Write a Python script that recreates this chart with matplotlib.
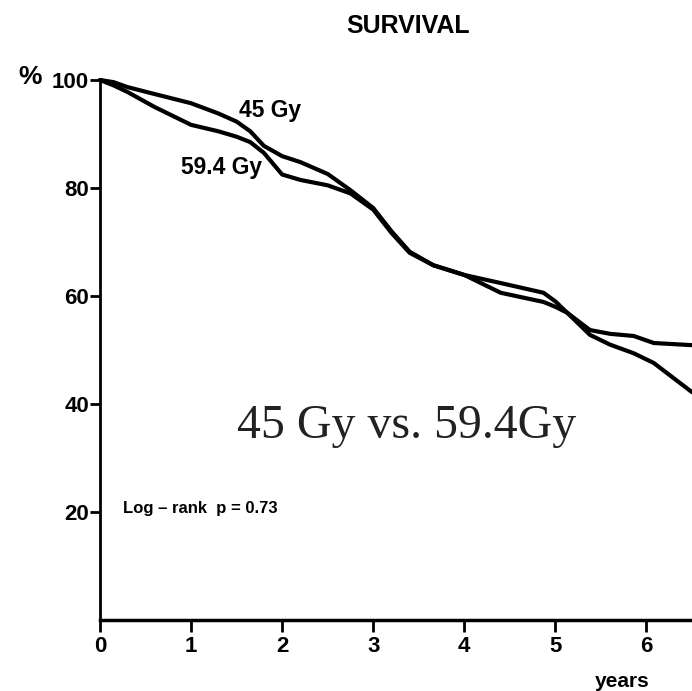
import matplotlib.pyplot as plt

# survival curves (years, % surviving)
years_45 = [0, 0.15, 0.3, 0.6, 1.0, 1.3, 1.5, 1.65, 1.8, 2.0, 2.2, 2.5, 2.75, 3.0, 3.2, 3.4, 3.66, 4.0, 4.4, 4.87, 5.0, 5.13, 5.38, 5.6, 5.86, 6.08, 6.5]
surv_45 = [100, 99.6, 98.7, 97.4, 95.7, 93.8, 92.3, 90.5, 87.8, 85.9, 84.8, 82.6, 79.6, 76.3, 72.0, 68.2, 65.7, 63.9, 62.4, 60.6, 59.0, 56.9, 53.7, 53.0, 52.6, 51.3, 50.9]

years_594 = [0, 0.15, 0.3, 0.6, 1.0, 1.3, 1.5, 1.65, 1.8, 2.0, 2.2, 2.5, 2.75, 3.0, 3.2, 3.4, 3.66, 4.0, 4.4, 4.87, 5.0, 5.13, 5.38, 5.6, 5.86, 6.08, 6.5]
surv_594 = [100, 99.0, 97.8, 95.0, 91.7, 90.5, 89.5, 88.5, 86.5, 82.5, 81.5, 80.5, 79.0, 76.0, 71.7, 68.0, 65.7, 63.9, 60.6, 58.9, 58.0, 56.9, 52.8, 51.0, 49.4, 47.6, 42.2]

xticks = [0, 1, 2, 3, 4, 5, 6]
yticks = [20, 40, 60, 80, 100]

plt.rcParams['font.family'] = ['Liberation Sans', 'DejaVu Sans']

fig = plt.figure(figsize=(6.92, 6.91), dpi=100)
ax = fig.add_axes([0.1445, 0.1027, 0.8555, 0.7815])

ax.plot(years_45, surv_45, color='black', lw=3, clip_on=False, solid_capstyle='round', solid_joinstyle='round')
ax.plot(years_594, surv_594, color='black', lw=3, clip_on=False, solid_capstyle='round', solid_joinstyle='round')

ax.set_xlim(0, 6.5)
ax.set_ylim(0, 100)
ax.spines['top'].set_visible(False)
ax.spines['right'].set_visible(False)
ax.spines['left'].set_linewidth(2)
ax.spines['bottom'].set_linewidth(2.5)

ax.set_xticks(xticks)
ax.set_xticklabels([str(t) for t in xticks], fontsize=16, fontweight='bold')
ax.set_yticks(yticks)
ax.set_yticklabels([str(t) for t in yticks], fontsize=16, fontweight='bold')
ax.tick_params(axis='x', direction='out', length=8.5, width=2, pad=3)
ax.tick_params(axis='y', direction='out', length=7, width=2, pad=1)

fig.text(0.590, 0.962, 'SURVIVAL', fontsize=18, fontweight='bold', ha='center', va='center')
fig.text(0.043, 0.888, '%', fontsize=19, fontweight='bold', ha='center', va='center')
fig.text(0.899, 0.014, 'years', fontsize=15, fontweight='bold', ha='center', va='center')

ax.text(1.53, 94.3, '45 Gy', fontsize=16.5, fontweight='bold', ha='left', va='center')
ax.text(0.89, 83.8, '59.4 Gy', fontsize=16.5, fontweight='bold', ha='left', va='center')
ax.text(0.25, 20.6, 'Log \u2013 rank  p = 0.73', fontsize=12, fontweight='bold', ha='left', va='center')

ax.text(3.37, 33.7, '45 Gy vs. 59.4Gy', fontsize=34.5, family=['Liberation Serif', 'DejaVu Serif'],
        ha='center', va='baseline', color='#222222')

fig.savefig('out.png', dpi=100)
